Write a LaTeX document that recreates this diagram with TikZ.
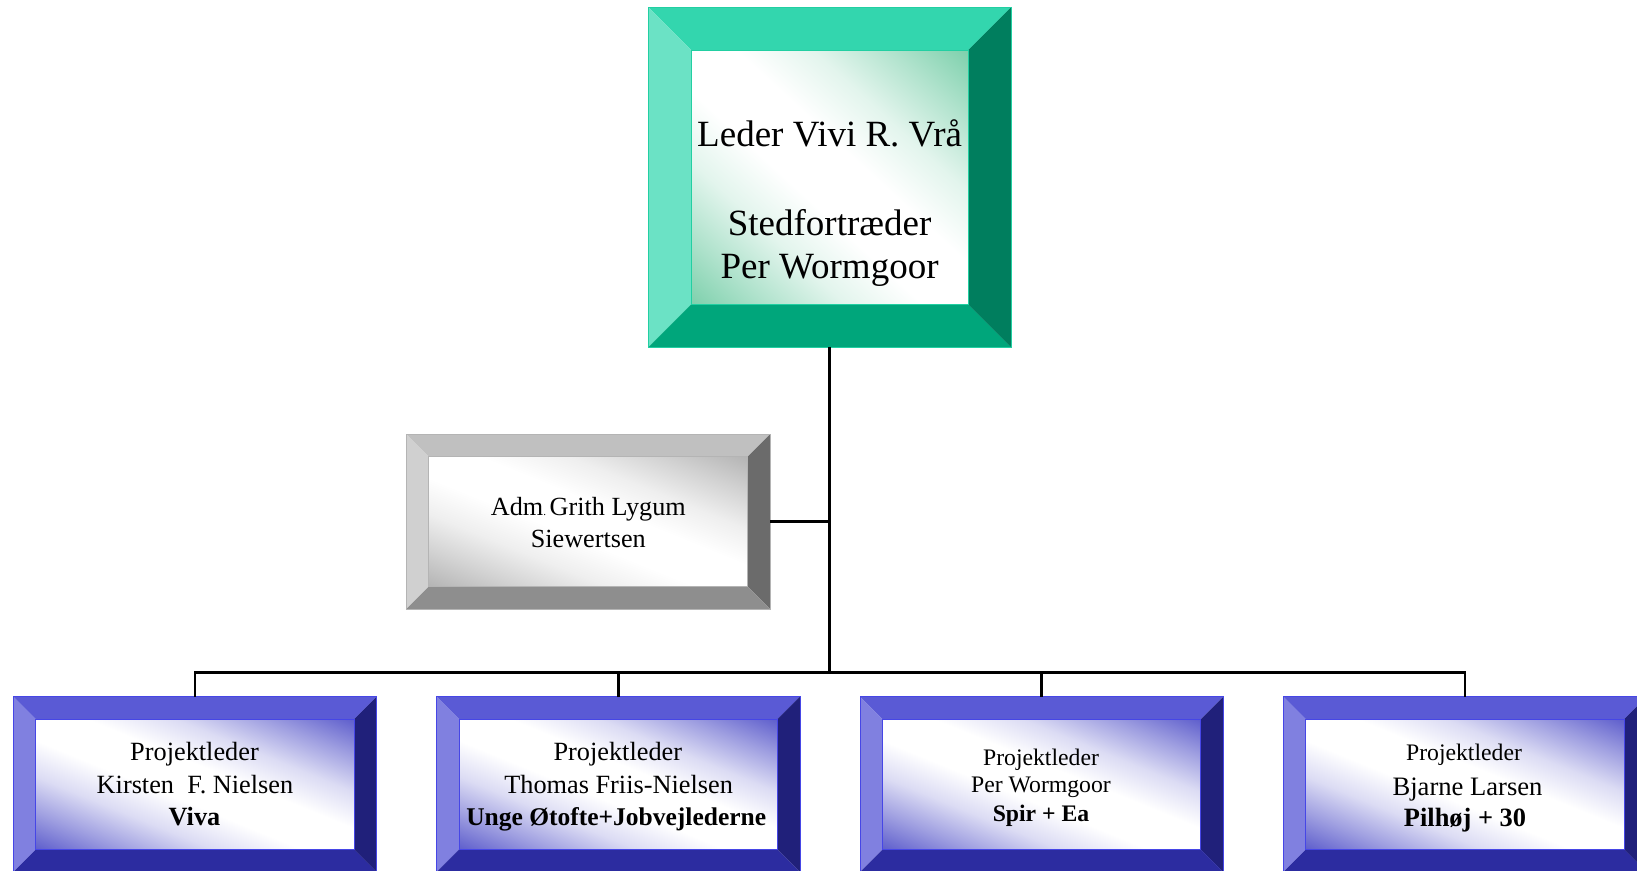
\documentclass[tikz,border=0pt]{standalone}
\usepackage{fontspec}
\setmainfont{Liberation Serif}
\usetikzlibrary{calc}
\definecolor{tealtop}{HTML}{33D6AE}
\definecolor{tealleft}{HTML}{6BE2C5}
\definecolor{tealright}{HTML}{007E5E}
\definecolor{tealbot}{HTML}{00A67B}
\definecolor{tealsh}{HTML}{7DD0AC}
\definecolor{tealline}{HTML}{22CFA2}
\definecolor{graytop}{HTML}{C0C0C0}
\definecolor{grayleft}{HTML}{D0D0D0}
\definecolor{grayright}{HTML}{6B6B6B}
\definecolor{graybot}{HTML}{8E8E8E}
\definecolor{graysh}{HTML}{B4B4B4}
\definecolor{grayline}{HTML}{B4B4B4}
\definecolor{bluetop}{HTML}{5A5AD5}
\definecolor{blueleft}{HTML}{8080E0}
\definecolor{blueright}{HTML}{20207A}
\definecolor{bluebot}{HTML}{2C2CA0}
\definecolor{bluesh}{HTML}{5E5ECC}
\definecolor{blueline}{HTML}{4646E6}
\colorlet{tealA}{tealsh!60!white}\colorlet{tealB}{tealsh!22!white}
\colorlet{grayA}{graysh!60!white}\colorlet{grayB}{graysh!22!white}
\colorlet{blueA}{bluesh!60!white}\colorlet{blueB}{bluesh!22!white}
\pgfdeclareverticalshading{shteal}{100bp}{color(0bp)=(tealsh); color(25bp)=(tealsh); color(32bp)=(tealA); color(39bp)=(tealB); color(46bp)=(white); color(54bp)=(white); color(61bp)=(tealB); color(68bp)=(tealA); color(75bp)=(tealsh); color(100bp)=(tealsh)}
\pgfdeclareverticalshading{shgray}{100bp}{color(0bp)=(graysh); color(25bp)=(graysh); color(32bp)=(grayA); color(39bp)=(grayB); color(46bp)=(white); color(54bp)=(white); color(61bp)=(grayB); color(68bp)=(grayA); color(75bp)=(graysh); color(100bp)=(graysh)}
\pgfdeclareverticalshading{shblue}{100bp}{color(0bp)=(bluesh); color(25bp)=(bluesh); color(32bp)=(blueA); color(39bp)=(blueB); color(46bp)=(white); color(54bp)=(white); color(61bp)=(blueB); color(68bp)=(blueA); color(75bp)=(bluesh); color(100bp)=(bluesh)}
\newcommand\bevelbox[6]{%
 \fill[#3] (#1.north west) -- (#1.north east) -- ($(#1.north east)+(-#2,#2)$) -- ($(#1.north west)+(#2,#2)$) -- cycle;
 \fill[#4] (#1.north west) -- ($(#1.north west)+(#2,#2)$) -- ($(#1.south west)+(#2,-#2)$) -- (#1.south west) -- cycle;
 \fill[#5] (#1.north east) -- (#1.south east) -- ($(#1.south east)+(-#2,-#2)$) -- ($(#1.north east)+(-#2,#2)$) -- cycle;
 \fill[#6] (#1.south west) -- (#1.south east) -- ($(#1.south east)+(-#2,-#2)$) -- ($(#1.south west)+(#2,-#2)$) -- cycle;
}
\newcommand\bevelborder[3]{%
 \draw[#3, line width=1pt] ($(#1.north west)+(#2,#2)$) rectangle ($(#1.south east)+(-#2,-#2)$);
 \draw[#3, line width=1pt] (#1.north west) rectangle (#1.south east);
}
% cx, cy, w, h, shading
\newcommand\innershade[5]{%
 \begin{scope}[transform canvas={shift={(#1,#2)}, xscale=#3/100, yscale=#4/100, rotate=-45}]
  \clip (70.71,0) -- (0,70.71) -- (-70.71,0) -- (0,-70.71) -- cycle;
  \shade[shading=#5] (-70.71,-70.71) rectangle (70.71,70.71);
 \end{scope}
}
\tikzset{
  boxnode/.style={rectangle, inner sep=0pt, outer sep=0pt},
  txt/.style={anchor=base, inner sep=0pt},
  conn/.style={draw=black, line width=2.5pt},
}
\begin{document}
\begin{tikzpicture}[x=1pt,y=-1pt]
\useasboundingbox (0,0) rectangle (1637,870);
\clip (0,0) rectangle (1637,870);
% boxes
\node[boxnode, minimum width=362.7pt, minimum height=340pt] (top) at (829.65,177.3) {};
\bevelbox{top}{42.7}{tealtop}{tealleft}{tealright}{tealbot}
\innershade{829.65}{177.3}{277.3}{254.6}{shteal}
\bevelborder{top}{42.7}{tealline}
\node[boxnode, minimum width=363.7pt, minimum height=174.7pt] (adm) at (588.15,521.65) {};
\bevelbox{adm}{22.5}{graytop}{grayleft}{grayright}{graybot}
\innershade{588.15}{521.65}{318.7}{129.7}{shgray}
\bevelborder{adm}{22.5}{grayline}
\foreach \n/\cx in {p1/195, p2/618.3, p3/1041.7, p4/1465}{
  \node[boxnode, minimum width=363.4pt, minimum height=175.3pt] (\n) at (\cx,784.35) {};
  \bevelbox{\n}{22.6}{bluetop}{blueleft}{blueright}{bluebot}
  \innershade{\cx}{784.35}{318.2}{130.1}{shblue}
  \bevelborder{\n}{22.6}{blueline}
}
% connectors
\coordinate (bus) at (829.65,672.7);
\draw[conn] (top.south) -- (bus);
\draw[conn] (adm.east) -- (adm.east -| top.south);
\draw[conn] (p1.north) |- (bus) -| (p4.north);
\draw[conn] (p2.north) -- (p2.north |- bus);
\draw[conn] (p3.north) -- (p3.north |- bus);
% texts
\begin{scope}[every node/.style={txt, font=\fontsize{37}{43}\selectfont}]
\node (t1) at (829.6,146) {Leder Vivi R. Vrå};
\node (t2) at (829.6,235) {Stedfortræder};
\node (t3) at (829.6,278) {Per Wormgoor};
\end{scope}
\begin{scope}[every node/.style={txt, font=\fontsize{26.2}{31}\selectfont}]
\node (a1) at (588.3,515) {Adm{\fontsize{11}{12}\selectfont. }Grith Lygum};
\node (a2) at (588.3,547.7) {Siewertsen};
\end{scope}
\begin{scope}[every node/.style={txt, font=\fontsize{26.3}{31}\selectfont}]
\node (k1) at (194.5,760.7) {Projektleder};
\node (k2) at (195,793.3) {Kirsten\ \ F. Nielsen};
\node[font=\fontsize{26.3}{31}\selectfont\bfseries] (k3) at (194.5,825) {Viva};
\node (u1) at (617.8,760.7) {Projektleder};
\node (u2) at (618.6,793) {Thomas Friis-Nielsen};
\node[font=\fontsize{25.5}{31}\selectfont\bfseries] (u3) at (616.2,825) {Unge Øtofte+Jobvejlederne};
\end{scope}
\begin{scope}[every node/.style={txt, font=\fontsize{23.7}{28}\selectfont}]
\node (s1) at (1041,765) {Projektleder};
\node (s2) at (1041,792.3) {Per Wormgoor};
\node[font=\fontsize{23.7}{28}\selectfont\bfseries] (s3) at (1041,821.7) {Spir + Ea};
\node (b1) at (1464,760) {Projektleder};
\node[font=\fontsize{26.6}{31}\selectfont] (b2) at (1467.5,795) {Bjarne Larsen};
\node[font=\fontsize{26.4}{31}\selectfont\bfseries] (b3) at (1465,826.7) {Pilhøj + 30};
\end{scope}
\end{tikzpicture}
\end{document}
